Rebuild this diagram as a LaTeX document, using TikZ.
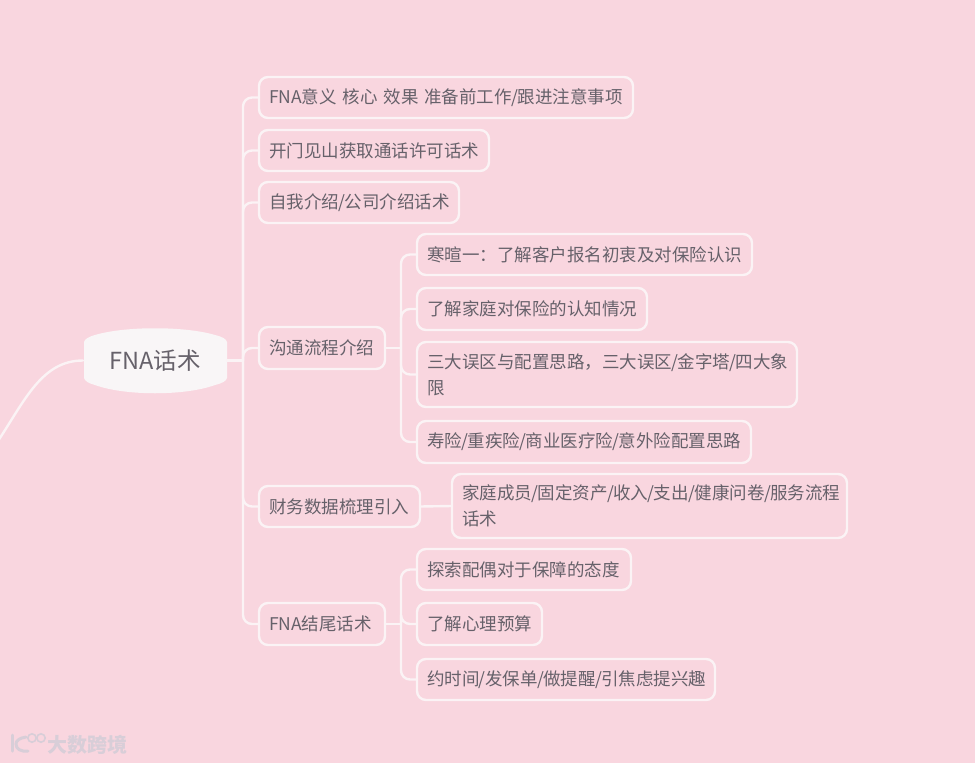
\documentclass[tikz,border=0pt]{standalone}
\usepackage{fontspec}
\setmainfont{Noto Sans CJK SC}
\definecolor{bgpink}{HTML}{F9D6DF}
\definecolor{linew}{HTML}{FBF3F5}
\definecolor{rootw}{HTML}{F9F6F7}
\definecolor{txt}{HTML}{66616A}
\definecolor{mark}{HTML}{D8CED8}
\newcommand{\sla}{\kern-.6pt/\kern-.6pt}
\tikzset{
  topic/.style n args={2}{draw=linew,line width=2.4pt,rounded corners=9pt,anchor=north west,
    outer sep=0pt,inner xsep=10pt,inner ysep=0pt,text width=#1pt-20pt,minimum height=#2pt,align=left,
    font=\fontsize{17.5}{26}\selectfont,text=txt},
  conn/.style={draw=linew,line width=2.4pt,rounded corners=9pt,line cap=round},
  rootbody/.style={fill=rootw,draw=none},
  roottext/.style={font=\fontsize{23.5}{26}\selectfont,text=txt,minimum width=144pt,minimum height=40pt,inner sep=0pt,outer sep=0pt},
  logo/.style={draw=mark,line width=3pt,line cap=round},
  marktext/.style={font=\fontsize{20}{22}\selectfont\bfseries,text=mark,inner sep=0pt}
}
\begin{document}
\begin{tikzpicture}[x=1pt,y=-1pt]
\useasboundingbox (0,0) rectangle (975,763);
\fill[bgpink] (0,0) rectangle (975,763);
% root body
\path[rootbody] (84,342) .. controls (85,339) and (88,337) .. (95,335)
  .. controls (125,326) and (185,326) .. (215,335)
  .. controls (223,337) and (226,339) .. (227,342)
  -- (227,378) .. controls (226,381) and (223,383) .. (215,385)
  .. controls (185,396) and (125,396) .. (95,385)
  .. controls (88,383) and (85,381) .. (84,378) -- cycle;
\node[roottext] (root) at (155,360.5) {FNA话术};
% level 1
\node[topic={374}{41}] (a1) at (259,77) {\mbox{FNA意义 核心 效果 准备前工作\sla 跟进注意事项}};
\node[topic={230}{41}] (a2) at (259,130) {开门见山获取通话许可话术};
\node[topic={200}{41}] (a3) at (259,182) {自我介绍\sla 公司介绍话术};
\node[topic={126}{42}] (a4) at (259,327) {沟通流程介绍};
\node[topic={161}{41}] (a5) at (259,486) {财务数据梳理引入};
\node[topic={126}{42}] (a6) at (259,603) {FNA结尾话术};
% level 2
\node[topic={335}{41}] (b1) at (417,234) {寒暄一：了解客户报名初衷及对保险认识};
\node[topic={230}{42}] (b2) at (417,288) {了解家庭对保险的认知情况};
\node[topic={380}{65}] (b3) at (417,342) {三大误区与配置思路，三大误区\sla 金字塔\sla 四大象\\限};
\node[topic={334}{42}] (b4) at (417,421) {寿险\sla 重疾险\sla 商业医疗险\sla 意外险配置思路};
\node[topic={395}{64}] (c1) at (452,474) {家庭成员\sla 固定资产\sla 收入\sla 支出\sla 健康问卷\sla 服务流程\\话术};
\node[topic={214}{41}] (d1) at (417,549) {探索配偶对于保障的态度};
\node[topic={125}{42}] (d2) at (417,603) {了解心理预算};
\node[topic={298}{41}] (d3) at (417,659) {约时间\sla 发保单\sla 做提醒\sla 引焦虑提兴趣};
% hubs
\coordinate (hubA) at (243,360.5);
\coordinate (hubB) at (401,348);
\coordinate (hubD) at (401,624);
\coordinate (tail) at (-2,441);
% connectors
\draw[conn] (root.east) -- (hubA);
\foreach \n in {a1,a2,a3,a4,a5,a6} \draw[conn] (hubA) |- (\n.west);
\draw[conn] (a4.east) -- (hubB);
\foreach \n in {b1,b2,b3,b4} \draw[conn] (hubB) |- (\n.west);
\draw[conn] (a5.east) -- (c1.west);
\draw[conn] (a6.east) -- (hubD);
\foreach \n in {d1,d2,d3} \draw[conn] (hubD) |- (\n.west);
\draw[conn] (root.west) .. controls (42,360.5) and (25,400) .. (tail);
% watermark
\draw[logo] (12,735) -- (12,751);
\draw[logo] (26,737) .. controls (19,738) and (16,741) .. (16,744) .. controls (16,749) and (21,752) .. (28,751);
\draw[logo,line width=1.6pt] (32,738) circle (4.2pt);
\draw[logo,line width=1.6pt] (41,738) circle (4.2pt);
\node[marktext,anchor=west] (wm) at (47,745) {大数跨境};
\end{tikzpicture}
\end{document}
